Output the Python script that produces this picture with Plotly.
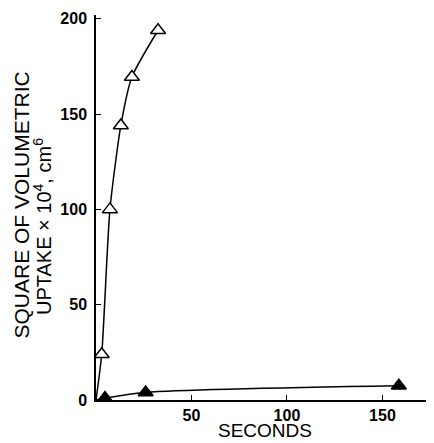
import plotly.graph_objects as go

# Data
open_x = [3, 7.3, 13, 18.8, 32.5]
open_y = [24, 100, 144, 169.5, 194]
filled_x = [4.7, 26, 158.6]
filled_y = [1, 4, 7.5]
origin_x = [0]
origin_y = [0]
y_ticks = [0, 50, 100, 150, 200]
x_ticks = [50, 100, 150]

# page is drawn with an 8px body margin, so figure coords = page coords - 8
OFF = 8
W, H = 434 - OFF, 443 - OFF
L, T = 96 - OFF, 15 - OFF
B = H - (400 - OFF)
PW, PH = W - L, H - T - B

fig = go.Figure()

fig.add_trace(go.Scatter(x=origin_x + open_x, y=origin_y + open_y, mode="lines",
                         line=dict(color="black", width=1.5, shape="spline", smoothing=0.6),
                         hoverinfo="skip", showlegend=False))
fig.add_trace(go.Scatter(x=origin_x + filled_x, y=origin_y + filled_y, mode="lines",
                         line=dict(color="black", width=1.5, shape="spline", smoothing=0.8),
                         hoverinfo="skip", showlegend=False))
fig.add_trace(go.Scatter(x=open_x, y=open_y, mode="markers",
                         marker=dict(symbol="triangle-up", size=13, color="white",
                                     line=dict(color="black", width=1.5)),
                         cliponaxis=False, showlegend=False))
fig.add_trace(go.Scatter(x=filled_x, y=filled_y, mode="markers",
                         marker=dict(symbol="triangle-up", size=13, color="black",
                                     line=dict(color="black", width=1.5)),
                         cliponaxis=False, showlegend=False))

tick_font = dict(family="Liberation Sans, Arial, sans-serif", size=16, color="black", weight="bold")


def px_x(page_x):
    return (page_x - OFF - L) / PW


def px_y(page_y):
    return ((H - B) - (page_y - OFF)) / PH


fig.update_layout(
    width=W, height=H,
    margin=dict(l=L, r=0, t=T, b=B, autoexpand=False),
    paper_bgcolor="white", plot_bgcolor="white",
    font=dict(family="Liberation Sans, Arial, sans-serif", color="black"),
    xaxis=dict(range=[0, 177], tickvals=x_ticks, ticktext=[str(v) for v in x_ticks],
               showgrid=False, zeroline=False, showline=True, linecolor="black", linewidth=1.5,
               ticks="inside", ticklen=5, tickwidth=1, tickcolor="black",
               tickfont=tick_font),
    yaxis=dict(range=[0, 202], tickvals=y_ticks, ticktext=[str(v) for v in y_ticks],
               showgrid=False, zeroline=False, showline=True, linecolor="black", linewidth=1.5,
               ticks="inside", ticklen=5, tickwidth=1, tickcolor="black",
               tickfont=tick_font, ticklabelstandoff=4),
    annotations=[
        dict(text="SQUARE OF VOLUMETRIC", xref="paper", yref="paper",
             x=px_x(20.5), y=px_y(205), xanchor="center", yanchor="middle",
             textangle=-90, showarrow=False, borderpad=0, font=dict(size=21, color="black")),
        dict(text="UPTAKE × 10<sup>4</sup>, cm<sup>6</sup>", xref="paper", yref="paper",
             x=px_x(43), y=px_y(227), xanchor="center", yanchor="middle",
             textangle=-90, showarrow=False, borderpad=0, font=dict(size=20, color="black")),
        dict(text="SECONDS", xref="paper", yref="paper",
             x=px_x(265), y=px_y(431), xanchor="center", yanchor="middle",
             showarrow=False, borderpad=0, font=dict(size=19, color="black")),
    ],
)

fig.write_html("out.html")
